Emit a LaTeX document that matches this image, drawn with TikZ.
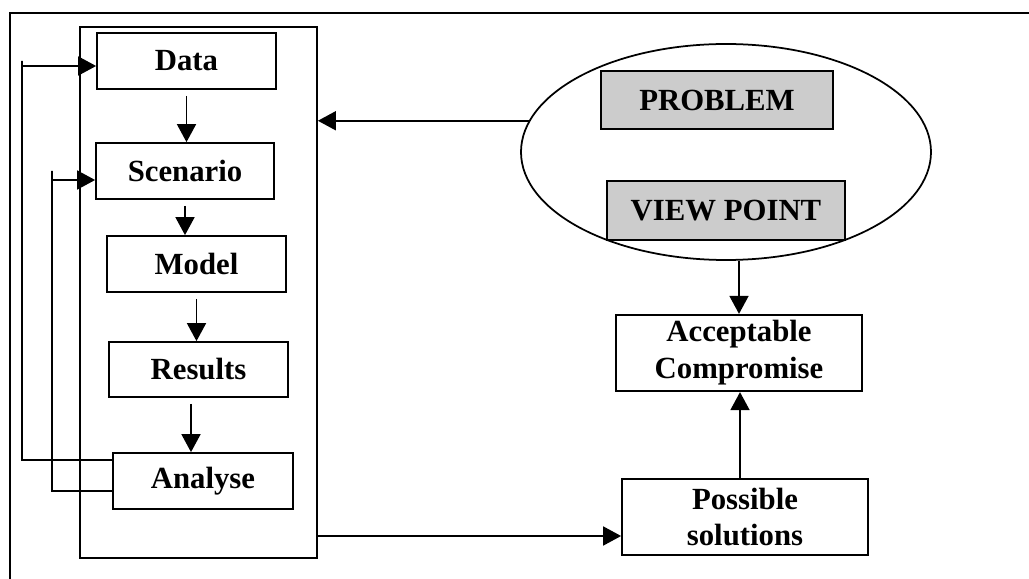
\documentclass[tikz,border=0pt]{standalone}
\usepackage{fontspec}
\setmainfont{Liberation Serif}
\usetikzlibrary{%
  arrows.meta,%
  shapes.geometric,% wg. ellipse
  positioning,%
  calc
}

\begin{document}
\begin{tikzpicture}[
  font=\bfseries\fontsize{17.5}{21}\selectfont, line width=1pt,
  >={Triangle[length=3.6mm, width=3.8mm]},
  stage/.style={rectangle, draw=black, fill=white, minimum width=3.58cm, minimum height=1.12cm},
  issue/.style={rectangle, draw=black, fill=gray!40, minimum height=1.17cm},
  result/.style={rectangle, draw=black, fill=white, align=center, minimum width=4.92cm, minimum height=1.52cm},
  flow/.style={->, shorten <=1.2mm}
]
\useasboundingbox (0,0) rectangle (20.58,-11.58);

% page frame
\draw (0.2,-11.7) -- (0.2,-0.26) -- (20.7,-0.26);

\node[rectangle, draw=black, minimum width=4.74cm, minimum height=10.62cm] (study) at (3.97,-5.85) {};

\node[stage] (data) at (3.73,-1.22) {Data};
\node[stage, minimum width=3.56cm] (scen) at (3.70,-3.42) {Scenario};
\node[stage] (model) at (3.93,-5.28) {Model};
\node[stage, minimum height=1.10cm] (res) at (3.97,-7.39) {Results};
\node[stage, minimum width=3.60cm] (ana) at (4.06,-9.62) {Analyse};

\node[ellipse, draw=black, minimum width=8.2cm, minimum height=4.32cm] (goal) at (14.52,-3.04) {};
\node[issue, minimum width=4.64cm] (prob) at (14.34,-2.00) {PROBLEM};
\node[issue, minimum width=4.76cm] (view) at (14.52,-4.21) {VIEW POINT};

\node[result] (acc) at (14.78,-7.06) {Acceptable\\Compromise};
\node[result] (sol) at (14.90,-10.34) {Possible\\solutions};

\coordinate (loopA) at (0.44,0);
\coordinate (loopB) at (1.04,0);

\draw[flow] (data.south) -- (data.south |- scen.north);
\draw[flow] (scen.south) -- (scen.south |- model.north);
\draw[flow] (model.south) -- (model.south |- res.north);
\draw[flow] ([xshift=-1.5mm]res.south) -- ([xshift=-1.5mm]res.south |- ana.north);

% feedback loops
\draw[->] ([yshift=4.2mm]ana.west) -| (loopA |- data.west) |- ([yshift=-1mm]data.west);
\draw[->] ([yshift=-2mm]ana.west) -| (loopB |- scen.west) |- ([yshift=-1.8mm]scen.west);

\draw[->] (goal.171) -- (goal.171 -| study.east);
\draw[->] ([yshift=-3.8mm]sol.west -| study.east) -- ([yshift=-3.8mm]sol.west);

\draw[->] (acc.north |- goal.south) -- (acc.north);
\draw[->] ([xshift=-1mm]sol.north) -- ([xshift=-1mm]sol.north |- acc.south);
\end{tikzpicture}
\end{document}
